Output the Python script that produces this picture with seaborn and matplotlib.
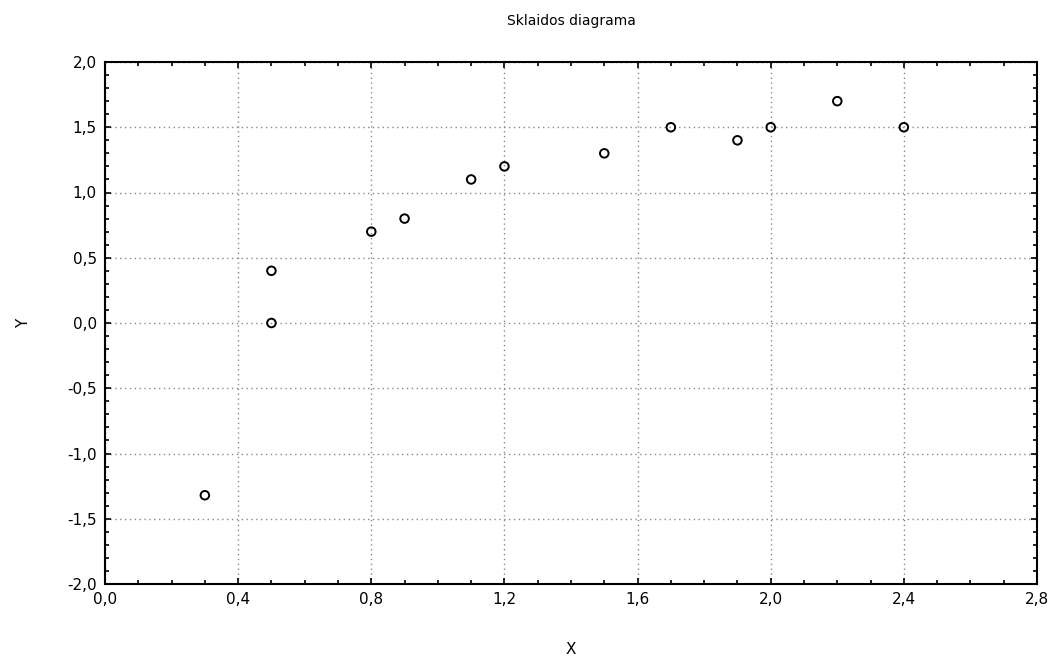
import matplotlib
matplotlib.use("Agg")
import matplotlib.pyplot as plt
import seaborn as sns
import pandas as pd
from matplotlib.ticker import MultipleLocator, FuncFormatter

x_vals = [0.3, 0.5, 0.5, 0.8, 0.9, 1.1, 1.2, 1.5, 1.7, 1.9, 2.0, 2.2, 2.4]
y_vals = [-1.32, 0.4, 0.0, 0.7, 0.8, 1.1, 1.2, 1.3, 1.5, 1.4, 1.5, 1.7, 1.5]
title = "Sklaidos diagrama"
x_label = "X"
y_label = "Y"

sns.set_style("white")
plt.rcParams['font.family'] = ['DejaVu Sans']
plt.rcParams['text.color'] = 'black'
plt.rcParams['axes.labelcolor'] = 'black'
plt.rcParams['xtick.color'] = 'black'
plt.rcParams['ytick.color'] = 'black'

df = pd.DataFrame({"X": x_vals, "Y": y_vals})

fig = plt.figure(figsize=(10.57, 6.6), dpi=100)
ax = fig.add_axes([105/1057, 76/660, (1037-105)/1057, (584-62)/660])

sns.scatterplot(data=df, x="X", y="Y", ax=ax, marker="o", s=38,
                facecolors="none", edgecolor="black", linewidth=1.4, zorder=3)

ax.set_xlim(0, 2.8)
ax.set_ylim(-2.0, 2.0)
ax.xaxis.set_major_locator(MultipleLocator(0.4))
ax.xaxis.set_minor_locator(MultipleLocator(0.1))
ax.yaxis.set_major_locator(MultipleLocator(0.5))
ax.yaxis.set_minor_locator(MultipleLocator(0.1))
fmt = FuncFormatter(lambda v, p: f"{v:.1f}".replace(".", ","))
ax.xaxis.set_major_formatter(fmt)
ax.yaxis.set_major_formatter(fmt)

ax.grid(True, which="major", linestyle=(0, (1, 2.5)), color="#888888", linewidth=1)
ax.tick_params(which="both", direction="in", top=True, right=True, bottom=True, left=True,
               color="black", width=1.2)
ax.tick_params(which="major", length=4, labelsize=11, pad=6, labelcolor="black")
ax.tick_params(which="minor", length=3)
for s in ax.spines.values():
    s.set_visible(True)
    s.set_color("black")
    s.set_linewidth(1.5)

ax.set_title(title, fontsize=10, pad=27, color="black")
ax.set_xlabel(x_label, fontsize=11, labelpad=25, color="black")
ax.set_ylabel(y_label, fontsize=11, labelpad=26, color="black")

fig.savefig("out.png", dpi=100)
